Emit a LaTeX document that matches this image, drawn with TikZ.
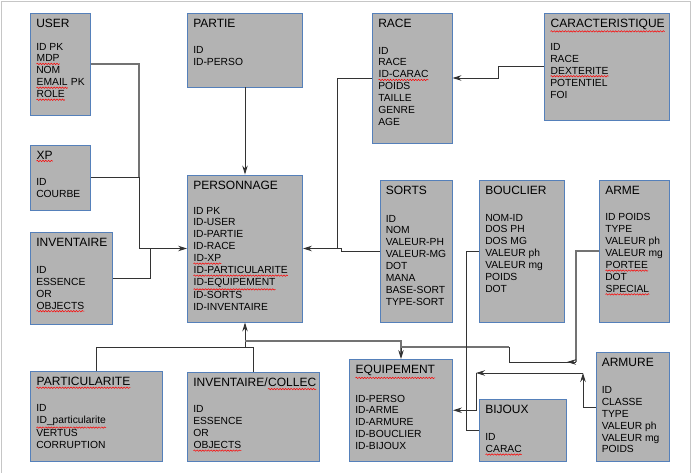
\documentclass[tikz,border=0pt]{standalone}
\usepackage{fontspec}
\setmainfont{Liberation Sans}
\usetikzlibrary{arrows.meta,fit,decorations.pathmorphing}

\definecolor{boxfill}{RGB}{179,179,179}
\definecolor{boxline}{RGB}{85,128,186}
\definecolor{linkgray}{RGB}{115,115,115}
\newcommand{\spell}[1]{\tikz[baseline=(w.base)]{\node[inner sep=0pt, font={}, anchor=base] (w) {#1};
  \draw[red, line width=0.5pt, decorate, decoration={snake, amplitude=0.7pt, segment length=2.8pt}] ([yshift=-1.8pt]w.south west) -- ([yshift=-1.8pt]w.south east);}}
\newcommand{\ttl}[1]{{\fontsize{12}{14}\selectfont #1}}

\tikzset{
  tbl/.style={draw=boxline, fill=boxfill, line width=0.9pt, inner sep=0pt},
  fields/.style={anchor=north west, inner sep=0pt, align=left, font=\fontsize{10.3}{11.9}\selectfont},
  link/.style={draw=black!80, line width=0.9pt},
  graylink/.style={draw=linkgray, line width=1.5pt},
  >={Stealth[length=9pt,width=5.5pt]}
}

\begin{document}
\begin{tikzpicture}[x=1pt,y=-1pt]
  \useasboundingbox (0,0) rectangle (693,473);
  \draw[gray!45] (1,473) -- (1,1) -- (690,1) -- (690,473);

  % tables
  \node[tbl, fit={(30.5,13) (90.5,115)}] (user) {};
  \node[fields] (user-t) at ([shift={(6,6)}]user.north west) {\ttl{USER}\\[11pt]ID PK\\\spell{MDP}\\NOM\\\spell{EMAIL} PK\\\spell{ROLE}};

  \node[tbl, fit={(187.5,13) (302.5,87)}] (partie) {};
  \node[fields] (partie-t) at ([shift={(6,6)}]partie.north west) {\ttl{PARTIE}\\[15pt]ID\\ID-PERSO};

  \node[tbl, fit={(372.5,13) (452,143)}] (race) {};
  \node[fields] (race-t) at ([shift={(6,6)}]race.north west) {\ttl{RACE}\\[15pt]ID\\RACE\\\spell{ID-CARAC}\\POIDS\\TAILLE\\GENRE\\AGE};

  \node[tbl, fit={(544.5,13) (669.5,120)}] (carac) {};
  \node[fields] (carac-t) at ([shift={(6,6)}]carac.north west) {\ttl{\spell{CARACTERISTIQUE}}\\[10pt]ID\\RACE\\\spell{DEXTERITE}\\POTENTIEL\\FOI};

  \node[tbl, fit={(30.5,145) (90.5,210)}] (xp) {};
  \node[fields] (xp-t) at ([shift={(6,6)}]xp.north west) {\ttl{\spell{XP}}\\[15pt]ID\\COURBE};

  \node[tbl, fit={(30.5,232.5) (112.5,324)}] (inv) {};
  \node[fields] (inv-t) at ([shift={(6,6)}]inv.north west) {\ttl{INVENTAIRE}\\[15pt]ID\\ESSENCE\\OR\\\spell{OBJECTS}};

  \node[tbl, fit={(187.5,175) (302.5,322)}] (perso) {};
  \node[fields] (perso-t) at ([shift={(6,6)}]perso.north west) {\ttl{PERSONNAGE}\\[13pt]ID PK\\ID-USER\\ID-PARTIE\\ID-RACE\\\spell{ID-XP}\\\spell{ID-PARTICULARITE}\\\spell{ID-EQUIPEMENT}\\ID-SORTS\\ID-INVENTAIRE};

  \node[tbl, fit={(380,180) (452,322)}] (sorts) {};
  \node[fields] (sorts-t) at ([shift={(6,6)}]sorts.north west) {\ttl{SORTS}\\[16pt]ID\\NOM\\VALEUR-PH\\VALEUR-MG\\DOT\\MANA\\BASE-SORT\\TYPE-SORT};

  \node[tbl, fit={(479.5,180) (564,322)}] (bouclier) {};
  \node[fields] (bouclier-t) at ([shift={(6,6)}]bouclier.north west) {\ttl{BOUCLIER}\\[15pt]NOM-ID\\DOS PH\\DOS MG\\VALEUR ph\\VALEUR mg\\POIDS\\DOT};

  \node[tbl, fit={(599.5,180) (669.5,322)}] (arme) {};
  \node[fields] (arme-t) at ([shift={(6,6)}]arme.north west) {\ttl{ARME}\\[15pt]ID POIDS\\TYPE\\VALEUR ph\\VALEUR mg\\\spell{PORTEE}\\DOT\\\spell{SPECIAL}};

  \node[tbl, fit={(30.5,371.5) (162.5,461.5)}] (partic) {};
  \node[fields] (partic-t) at ([shift={(6,6)}]partic.north west) {\ttl{\spell{PARTICULARITE}}\\[14pt]ID\\\spell{ID\_particularite}\\VERTUS\\CORRUPTION};

  \node[tbl, fit={(187.5,372.5) (319.5,461.5)}] (invcol) {};
  \node[fields] (invcol-t) at ([shift={(6,6)}]invcol.north west) {\ttl{INVENTAIRE/\spell{COLLEC}}\\[14pt]ID\\ESSENCE\\OR\\\spell{OBJECTS}};

  \node[tbl, fit={(349.5,359.5) (452.5,461)}] (equip) {};
  \node[fields] (equip-t) at ([shift={(6,6)}]equip.north west) {\ttl{\spell{EQUIPEMENT}}\\[15pt]ID-PERSO\\ID-ARME\\ID-ARMURE\\ID-BOUCLIER\\ID-BIJOUX};

  \node[tbl, fit={(479.5,399.5) (566.5,461)}] (bijoux) {};
  \node[fields] (bijoux-t) at ([shift={(6,6)}]bijoux.north west) {\ttl{BIJOUX}\\[15pt]ID\\\spell{CARAC}};

  \node[tbl, fit={(596,352.5) (669.5,461.5)}] (armure) {};
  \node[fields] (armure-t) at ([shift={(6,6)}]armure.north west) {\ttl{ARMURE}\\[15pt]ID\\CLASSE\\TYPE\\VALEUR ph\\VALEUR mg\\POIDS};

  % joints
  \coordinate (jl) at (139,248.5);
  \coordinate (jr) at (337,248.5);
  \coordinate (jb) at (245,347);
  \coordinate (ka) at (576,362);
  \coordinate (kb) at (583,373);
  \coordinate (kc) at (476,373);

  % links into PERSONNAGE
  \draw[graylink] (user.east) -| (xp.east -| jl);
  \draw[link] (xp.east) -| (jl);
  \draw[link] (inv.east) -| (150,248.5);
  \draw[link,->] (jl) -- (perso.west);
  \draw[link,->] (partie.south) -- (perso.north);
  \draw[link] (race.west) -| (jr);
  \draw[link] (sorts.west) -| (341,248.5) -- (jr);
  \draw[link,->] (jr) -- (perso.east);
  \draw[link,->] (carac.west) -- (498,66.5) |- (race.east);
  \draw[link] (partic.north) |- (jb);
  \draw[link] (invcol.north) |- (jb);
  \draw[link,->] (jb) -- (perso.south);

  % links into EQUIPEMENT
  \draw[graylink] (245,341) -| (401,352);
  \draw[link,->] (401,347) -- (equip.north);
  \draw[graylink] (arme.west) -| (ka);
  \draw[link] (ka) -- (509,362) -- (509,347);
  \draw[graylink] (509,347) -- (401,347);
  \draw[link,->] (ka) -- ++(-9,0);
  \draw[link,->] (armure.west) -| (kb);
  \draw[link,->] (kb) -- (kc);
  \draw[link,->] (kc) |- (equip.east);
  \draw[link] (bouclier.west) -- (466,251) |- (bijoux.west);
\end{tikzpicture}
\end{document}
